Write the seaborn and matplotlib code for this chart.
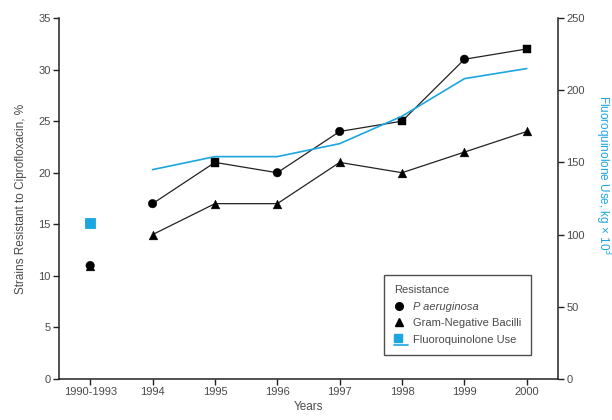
import matplotlib
matplotlib.use("Agg")
import matplotlib.pyplot as plt
import seaborn as sns
import pandas as pd
from matplotlib.lines import Line2D
from matplotlib.patches import Rectangle
from matplotlib.legend_handler import HandlerBase

# ---- data ----
years = ["1990-1993", "1994", "1995", "1996", "1997", "1998", "1999", "2000"]
p_aeruginosa = [11, 17, 21, 20, 24, 25, 31, 32]
gram_negative = [11, 14, 17, 17, 21, 20, 22, 24]
fq_use = [108, 145, 154, 154, 163, 182, 208, 215]

# styles (not data)
pa_markers = ["o", "o", "s", "o", "o", "s", "o", "s"]
CYAN = "#1BA6E0"
TXT = "#4a4a4a"

sns.set_theme(style="ticks")
plt.rcParams["font.family"] = ["Liberation Sans", "DejaVu Sans"]

fig = plt.figure(figsize=(6.12, 4.2), dpi=100)
ax = fig.add_axes([59/612, 1-379/420, 499/612, 361/420])
ax2 = ax.twinx()

x = list(range(len(years)))
df = pd.DataFrame({"x": x, "year": years, "pa": p_aeruginosa, "gn": gram_negative,
                   "fq": fq_use, "pam": pa_markers})
cont = df.iloc[1:]

# lines (1994-2000 connected, 1990-1993 stands alone)
sns.lineplot(data=cont, x="x", y="pa", ax=ax, color="#222222", lw=0.9, legend=False)
sns.lineplot(data=cont, x="x", y="gn", ax=ax, color="#222222", lw=0.9, legend=False)
sns.scatterplot(data=df, x="x", y="pa", style="pam", markers={"o": "o", "s": "s"},
                ax=ax, color="black", s=38, edgecolor="black", linewidth=0.3,
                legend=False, zorder=5)
sns.scatterplot(data=df, x="x", y="gn", marker="^", ax=ax, color="black", s=40,
                edgecolor="black", linewidth=0.3, legend=False, zorder=5)

sns.lineplot(data=cont, x="x", y="fq", ax=ax2, color=CYAN, lw=1.2, legend=False)
sns.scatterplot(data=df.iloc[:1], x="x", y="fq", marker="s", ax=ax2, color=CYAN,
                s=55, edgecolor=CYAN, legend=False, zorder=5)

# axes
ax.set_xlim(-0.5, 7.5)
ax.set_ylim(0, 35)
ax2.set_ylim(0, 250)
ax.set_xticks(x)
ax.set_xticklabels(years)
ax.set_yticks(range(0, 36, 5))
ax2.set_yticks(range(0, 251, 50))

for a in (ax, ax2):
    a.tick_params(axis="both", labelsize=8, labelcolor=TXT, color="#222222",
                  length=4, width=1, direction="out", pad=2)
    for sp in a.spines.values():
        sp.set_color("#222222")
        sp.set_linewidth(1.1)
    a.spines["top"].set_visible(False)
ax.spines["right"].set_visible(False)
ax2.spines["left"].set_visible(False)
ax2.spines["bottom"].set_visible(False)

ax.set_xlabel("Years", fontsize=8.5, color=TXT, labelpad=3)
ax.set_ylabel("Strains Resistant to Ciprofloxacin, %", fontsize=8.5, color=TXT, labelpad=8)
ax2.set_ylabel("Fluoroquinolone Use, kg × 10$^3$", fontsize=8.5, color=CYAN,
               rotation=270, va="center")
ax2.yaxis.set_label_coords(1.09, 0.565)
ax.grid(False)
ax2.grid(False)


class SquareLineHandler(HandlerBase):
    def create_artists(self, legend, orig_handle, xd, yd, w, h, fs, trans):
        x0, y0 = -xd, -yd
        side = h * 1.05
        r = Rectangle((x0, y0 + h * 0.1), side, side, facecolor=CYAN,
                      edgecolor=CYAN, transform=trans)
        ln = Line2D([x0, x0 + w * 1.3], [y0 - h * 0.3, y0 - h * 0.3], color=CYAN,
                    lw=1.2, transform=trans)
        return [r, ln]


h_pa = Line2D([], [], marker="o", color="black", ls="none", markersize=5.5)
h_gn = Line2D([], [], marker="^", color="black", ls="none", markersize=5.5)
h_fq = Rectangle((0, 0), 1, 1)
leg = ax2.legend([h_pa, h_gn, h_fq],
                 ["P aeruginosa", "Gram-Negative Bacilli", "Fluoroquinolone Use"],
                 handler_map={Rectangle: SquareLineHandler()},
                 title="Resistance", title_fontsize=8, fontsize=8,
                 loc="upper left", bbox_to_anchor=(0.651, 0.288), borderaxespad=0,
                 frameon=True, fancybox=False, edgecolor="#222222",
                 handlelength=1.0, handletextpad=0.7, labelspacing=0.6,
                 alignment="left", borderpad=0.9)
leg.get_frame().set_linewidth(1.0)
for t in leg.get_texts():
    t.set_color(TXT)
leg.get_texts()[0].set_fontstyle("italic")
leg.get_title().set_color(TXT)

fig.savefig("out.png", dpi=100)
